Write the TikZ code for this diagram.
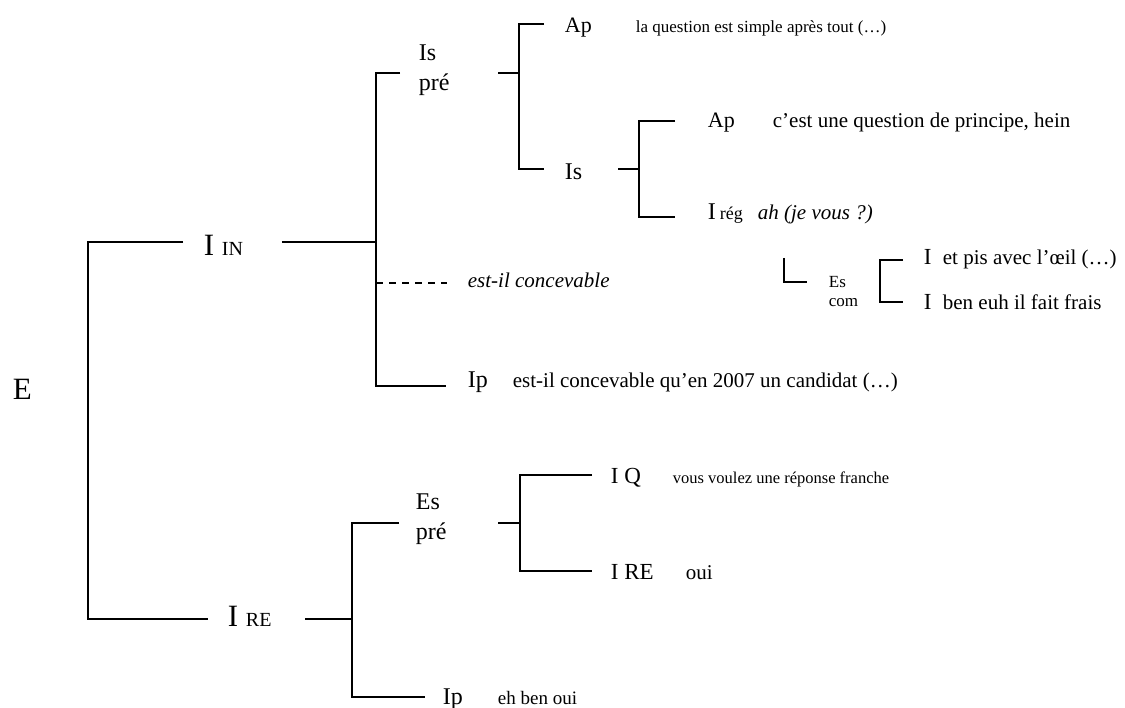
\documentclass[tikz,border=0pt]{standalone}
\usepackage{fontspec}
\setmainfont{Liberation Serif}
\usepackage{tikz}

\begin{document}
\begin{tikzpicture}[
  x=1pt, y=-1pt, % pixel like units, y going down
  line width=1.8pt, % line style
  head/.style={anchor=base west, inner sep=0pt, font=\fontsize{31}{36}\selectfont},
  tag/.style={anchor=base west, inner sep=0pt, font=\fontsize{24}{30}\selectfont},
  tagb/.style={anchor=base west, inner sep=0pt, font=\fontsize{22}{26}\selectfont},
  two/.style={anchor=west, inner sep=0pt, align=left, font=\fontsize{24}{30}\selectfont},
  says/.style={anchor=base west, inner sep=0pt, font=\fontsize{21}{25}\selectfont},
  sayssmall/.style={anchor=base west, inner sep=0pt, font=\fontsize{17}{20}\selectfont}
  ]
\useasboundingbox (0,0) rectangle (1125,708);

% labels
\node[head] (E) at (12,400) {E};
\node[head] (IN) at (203,256) {I {\fontsize{20}{24}\selectfont IN}};
\node[head] (RE) at (227,626) {I {\fontsize{20}{24}\selectfont RE}};

\node[two] (Ispre) at (418,70) {Is\\pré};
\node[tagb] (Ap1) at (564,33) {Ap};
\node[sayssmall] (Ap1s) at (635,33) {la question est simple après tout (…)};
\node[tag] (Is) at (564,180) {Is};
\node[tagb] (Ap2) at (707,128) {Ap};
\node[says] (Ap2s) at (772,128) {c’est une question de principe, hein};
\node[tag] (Ireg) at (707,220) {I\,{\fontsize{18}{20}\selectfont rég}};
\node[says] (Iregs) at (757,220) {\itshape ah (je vous ?)};
\node[says] (Conc) at (467,288) {\itshape est-il concevable};
\node[tag] (Ip1) at (467,388) {Ip};
\node[says] (Ip1s) at (512,388) {est-il concevable qu’en 2007 un candidat (…)};

\node[two, font=\fontsize{17}{19}\selectfont] (Escom) at (828,292) {Es\\com};
\node[tag, font=\fontsize{23}{28}\selectfont] (Ia) at (923,265) {I};
\node[says] (Ias) at (942,265) {et pis avec l’œil (…)};
\node[tag, font=\fontsize{23}{28}\selectfont] (Ib) at (923,310) {I};
\node[says] (Ibs) at (942,310) {ben euh il fait frais};

\node[two] (Espre) at (415,519.5) {Es\\pré};
\node[tag, font=\fontsize{23}{28}\selectfont] (IQ) at (610,483) {I Q};
\node[anchor=base west, inner sep=0pt, font=\fontsize{16.5}{20}\selectfont] (IQs) at (672,483) {vous voulez une réponse franche};
\node[tag, font=\fontsize{23}{28}\selectfont] (IRE) at (610,579) {I RE};
\node[says] (IREs) at (685,579) {oui};
\node[tag] (Ip2) at (442,704) {Ip};
\node[anchor=base west, inner sep=0pt, font=\fontsize{19}{22}\selectfont] (Ip2s) at (497,704) {eh ben oui};

% bracket corners
\coordinate (eT) at (88,242);
\coordinate (eB) at (88,619);
\coordinate (inT) at (376,73);
\coordinate (inJ) at (376,242);
\coordinate (inD) at (376,283);
\coordinate (inB) at (376,386);
\coordinate (prT) at (519,24);
\coordinate (prJ) at (519,73);
\coordinate (prB) at (519,169);
\coordinate (isT) at (639,121);
\coordinate (isJ) at (639,169);
\coordinate (isB) at (639,217);
\coordinate (comT) at (784,258);
\coordinate (comB) at (784,282);
\coordinate (brT) at (880,260);
\coordinate (brB) at (880,302);
\coordinate (reT) at (352,523);
\coordinate (reJ) at (352,619);
\coordinate (reB) at (352,697);
\coordinate (epT) at (520,475);
\coordinate (epJ) at (520,523);
\coordinate (epB) at (520,571);

% E
\draw ([xshift=-20pt]IN.west |- eT) -- (eT) -- (eB) -- ([xshift=-19pt]RE.west |- eB);

% I IN
\draw ([xshift=38pt]IN.east |- inJ) -- (inJ);
\draw ([xshift=-18pt]Ispre.west |- inT) -- (inT) -- (inB) -- ([xshift=-21pt]Ip1.west |- inB);
\draw[dash pattern=on 7pt off 6pt] (inD) -- ([xshift=-20pt]Conc.west |- inD);

% Is pre
\draw ([xshift=48pt]Ispre.east |- prJ) -- (prJ);
\draw ([xshift=-20pt]Ap1.west |- prT) -- (prT) -- (prB) -- ([xshift=-20pt]Is.west |- prB);

% Is
\draw ([xshift=35pt]Is.east |- isJ) -- (isJ);
\draw ([xshift=-32pt]Ap2.west |- isT) -- (isT) -- (isB) -- ([xshift=-32pt]Ireg.west |- isB);

% Es com
\draw (comT) -- (comB) -- ([xshift=-21pt]Escom.west |- comB);
\draw ([xshift=-20pt]Ia.west |- brT) -- (brT) -- (brB) -- ([xshift=-20pt]Ib.west |- brB);

% I RE
\draw ([xshift=33pt]RE.east |- reJ) -- (reJ);
\draw ([xshift=-16pt]Espre.west |- reT) -- (reT) -- (reB) -- ([xshift=-17pt]Ip2.west |- reB);

% Es pre
\draw ([xshift=51pt]Espre.east |- epJ) -- (epJ);
\draw ([xshift=-18pt]IQ.west |- epT) -- (epT) -- (epB) -- ([xshift=-18pt]IRE.west |- epB);
\end{tikzpicture}
\end{document}
